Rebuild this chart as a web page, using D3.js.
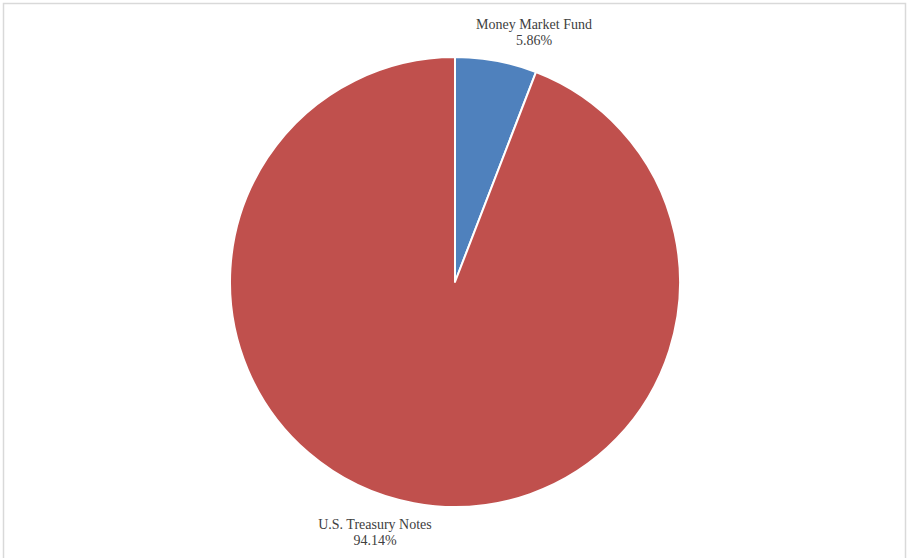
<!DOCTYPE html>
<html>
<head>
<meta charset="utf-8">
<script src="https://cdn.jsdelivr.net/npm/d3@7"></script>
<style>
  html, body { margin: 0; padding: 0; background: #fff; }
  svg { display: block; }
  text { font-family: "Liberation Serif", "Times New Roman", serif; fill: #404040; }
</style>
</head>
<body>
<svg id="chart" width="910" height="558"></svg>
<script>
// Portfolio allocation
const categories = ["Money Market Fund", "U.S. Treasury Notes"];
const percentages = [5.86, 94.14];
const sliceColors = ["#4F81BD", "#C0504D"];

const width = 910, height = 558;
const cx = 455, cy = 282, radius = 225;

const svg = d3.select("#chart");

// chart-area frame
svg.append("rect")
  .attr("x", 3.5).attr("y", 3.5)
  .attr("width", 902).attr("height", 570)
  .attr("fill", "none")
  .attr("stroke", "#d9d9d9")
  .attr("stroke-width", 1.5);

const data = categories.map((c, i) => ({ name: c, value: percentages[i], color: sliceColors[i] }));

const pie = d3.pie().sort(null).value(d => d.value);
const arc = d3.arc().innerRadius(0).outerRadius(radius);
const arcs = pie(data);

const g = svg.append("g").attr("transform", `translate(${cx},${cy})`);

g.selectAll("path")
  .data(arcs)
  .join("path")
  .attr("d", arc)
  .attr("fill", d => d.data.color)
  .attr("stroke", "#fff")
  .attr("stroke-width", 2)
  .attr("stroke-linejoin", "round");

// data labels: name on the first line, percentage below
const labelPos = [[534, 29], [375, 529]];

arcs.forEach((a, i) => {
  const [x, y] = labelPos[i];
  const t = svg.append("text")
    .attr("text-anchor", "middle")
    .attr("font-size", 14);
  t.append("tspan").attr("x", x).attr("y", y).text(a.data.name);
  t.append("tspan").attr("x", x).attr("y", y + 16).text(a.data.value.toFixed(2) + "%");
});
</script>
</body>
</html>
